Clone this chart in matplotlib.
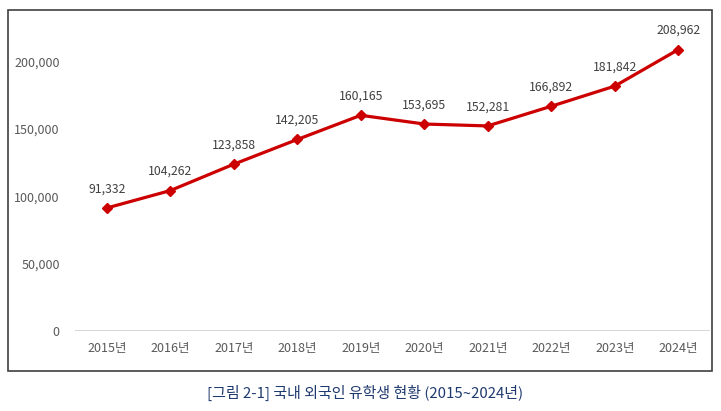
import matplotlib.pyplot as plt
from matplotlib.patches import Rectangle

plt.rcParams['font.family'] = ['Noto Sans CJK KR', 'DejaVu Sans']

# data
years = ['2015년', '2016년', '2017년', '2018년', '2019년',
         '2020년', '2021년', '2022년', '2023년', '2024년']
students = [91332, 104262, 123858, 142205, 160165,
            153695, 152281, 166892, 181842, 208962]
yticks = [0, 50000, 100000, 150000, 200000]

fig = plt.figure(figsize=(7.21, 4.11), dpi=100)
ax = fig.add_axes([75 / 721, 1 - 331 / 411, 635 / 721, 303 / 411])

x = list(range(len(years)))
ax.plot(x, students, color='#CC0000', linewidth=2.3, marker='D', markersize=5)

for xi, v in zip(x, students):
    ax.annotate(f'{v:,}', (xi, v), xytext=(0, 9), textcoords='offset points',
                ha='center', va='bottom', fontsize=8.8, color='#404040')

ax.set_xlim(-0.5, len(years) - 0.5)
ax.set_ylim(0, 225000)
ax.set_xticks(x)
ax.set_xticklabels(years, fontsize=9, color='#595959')
ax.set_yticks(yticks)
ax.set_yticklabels([f'{t:,}' for t in yticks], fontsize=9, color='#595959')
ax.tick_params(length=0, pad=8)
ax.tick_params(axis='y', pad=11)
for s in ax.spines.values():
    s.set_visible(False)
ax.axhline(0, color='#D0D0D0', linewidth=1.2, zorder=0)

# border around the chart
fig.patches.append(Rectangle((8 / 721, 1 - 371 / 411), 704 / 721, 361 / 411,
                             transform=fig.transFigure, fill=False,
                             edgecolor='#404040', linewidth=1.2))

fig.text(365 / 721, 1 - 393 / 411, '[그림 2-1] 국내 외국인 유학생 현황 (2015~2024년)',
         ha='center', va='center', fontsize=10.8, color='#1F3A6E')

fig.savefig('out.png', dpi=100)
